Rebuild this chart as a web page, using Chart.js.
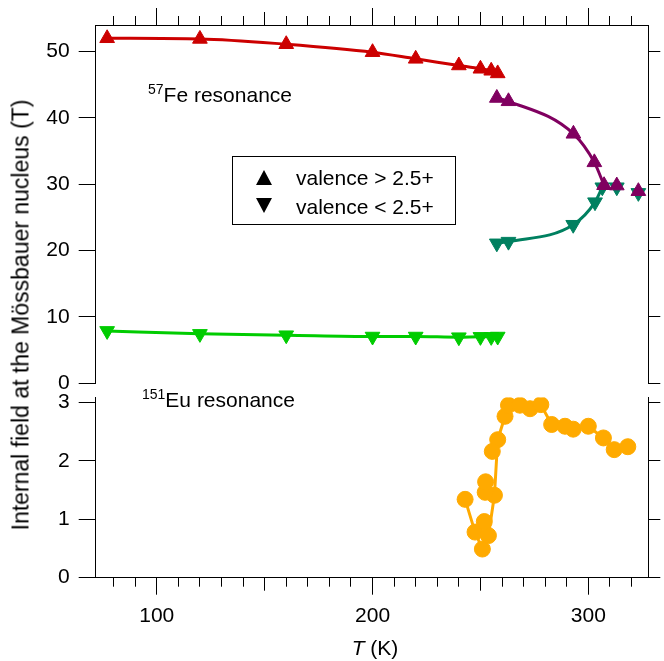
<!DOCTYPE html>
<html>
<head>
<meta charset="utf-8">
<script src="https://cdn.jsdelivr.net/npm/chart.js@4.4.1/dist/chart.umd.min.js"></script>
<style>
	body { margin: 0; background: #fff; }
	#wrap { position: relative; width: 664px; height: 661px; font-family: "Liberation Sans", Arial, sans-serif; color: #000; }
	#wrap canvas { position: absolute; left: 0; }
	.txt { position: absolute; font-size: 21px; line-height: 21px; white-space: nowrap; }
	.sup { font-size: 14px; position: relative; top: -8.5px; }
	#legend { position: absolute; left: 232px; top: 156px; width: 222px; height: 67px; border: 1px solid #000; }
	#legend svg { position: absolute; }
</style>
</head>
<body>
<div id="wrap">
	<canvas id="feChart" width="664" height="405" style="top:0"></canvas>
	<canvas id="euChart" width="664" height="285" style="top:376px"></canvas>

	<div class="txt" style="left:148px;top:84px"><span class="sup">57</span>Fe resonance</div>
	<div class="txt" style="left:142px;top:389px"><span class="sup">151</span>Eu resonance</div>

	<div id="legend">
		<svg width="16" height="15" style="left:23px;top:13px"><polygon points="8,0 16,15 0,15" fill="#000"/></svg>
		<svg width="16" height="15" style="left:23px;top:41px"><polygon points="0,0 16,0 8,15" fill="#000"/></svg>
	</div>
	<div class="txt" style="left:296px;top:167px">valence &gt; 2.5+</div>
	<div class="txt" style="left:296px;top:196px">valence &lt; 2.5+</div>

	<div class="txt" style="left:21px;top:315px;font-size:23px;line-height:23px;transform:translate(-50%,-50%) rotate(-90deg)">Internal field at the Mössbauer nucleus (T)</div>
	<div class="txt" style="left:375px;top:637px;transform:translateX(-50%)"><i>T</i> (K)</div>
</div>

<script>
// 57Fe, low temperature phase (fit lines through the points)
const feT = [77, 120, 160, 200, 220, 240, 250, 255, 258];
const feUp = [52.0, 51.9, 51.1, 49.9, 48.9, 47.9, 47.4, 47.1, 46.7];
const feDown = [7.9, 7.45, 7.25, 7.05, 7.05, 6.95, 7.0, 7.0, 7.05];
// 57Fe, intermediate phase
const feT2 = [257.6, 263, 293.1, 302.8, 307.3];
const feUp2 = [43.0, 42.5, 37.6, 33.3, 29.85];
const feT2d = [257.6, 263, 293, 303.1, 306.5];
const feDown2 = [21.1, 21.35, 23.9, 27.3, 29.55];
// 57Fe, above the transition (no line)
const feT3 = [313.2, 323.2];
const feUp3 = [29.8, 28.95];
const feDown3 = [29.55, 28.7];

// 151Eu
const euT = [242.9, 247.5, 250.9, 253.7, 256.5, 258, 261.4, 263, 268.3, 273, 278, 283, 289.2, 293, 300, 307, 312, 318.3];
const euB = [1.34, 0.78, 0.49, 0.72, 1.41, 2.36, 2.76, 2.95, 2.95, 2.89, 2.96, 2.62, 2.59, 2.54, 2.59, 2.39, 2.19, 2.24];
const euT2 = [251.8, 252.2, 252.4, 255.5];
const euB2 = [0.96, 1.46, 1.64, 2.16];

const xTicksMajor = [100, 200, 300];
const feYTicks = [0, 10, 20, 30, 40, 50];
const euYTicks = [0, 1, 2, 3];

const FONT = "'Liberation Sans', Arial, sans-serif";
const INK = "#000";
const xMin = 71.7, xMax = 327.8;

const pts = (xs, ys) => xs.map((x, i) => ({ x: x, y: ys[i] }));

function xScale(pos, step, len, weight, h, labels) {
	return {
		type: "linear",
		position: pos,
		min: xMin,
		max: xMax,
		weight: weight,
		afterFit: (s) => { s.height = h; },
		afterBuildTicks: labels ? (s) => { s.ticks = xTicksMajor.map((v) => ({ value: v })); } : undefined,
		ticks: {
			stepSize: step,
			includeBounds: false,
			autoSkip: false,
			display: labels,
			color: INK,
			padding: 9,
			font: { family: FONT, size: 21 },
		},
		grid: { drawOnChartArea: false, tickLength: len, tickColor: INK, tickWidth: 1 },
		border: { display: true, color: INK, width: 1 },
	};
}

function yScales(max, step, tickVals, w) {
	return {
		y: {
			type: "linear",
			position: "left",
			min: 0,
			max: max,
			afterFit: (s) => { s.width = w; },
			afterBuildTicks: (s) => { s.ticks = tickVals.map((v) => ({ value: v })); },
			ticks: { stepSize: step, color: INK, padding: 9, font: { family: FONT, size: 21 } },
			grid: { drawOnChartArea: false, tickLength: 17, tickColor: INK },
			border: { display: true, color: INK, width: 1 },
		},
		yR: {
			type: "linear",
			position: "right",
			min: 0,
			max: max,
			afterFit: (s) => { s.width = 664 - 648.3; },
			afterBuildTicks: (s) => { s.ticks = tickVals.map((v) => ({ value: v })); },
			ticks: { display: false },
			grid: { drawOnChartArea: false, tickLength: 12, tickColor: INK },
			border: { display: true, color: INK, width: 1 },
		},
	};
}

function series(data, color, style, withLine, rot) {
	return {
		data: data,
		showLine: withLine,
		borderColor: color,
		backgroundColor: color,
		borderWidth: 3,
		pointStyle: style,
		pointRadius: 8.5,
		pointRotation: rot || 0,
		pointBorderWidth: 1,
		pointBorderColor: color,
		pointBackgroundColor: color,
		cubicInterpolationMode: "monotone",
		xAxisID: "x",
		yAxisID: "y",
	};
}

const common = {
	responsive: false,
	animation: false,
	events: [],
	plugins: { legend: { display: false }, tooltip: { enabled: false } },
};

new Chart(document.getElementById("feChart"), {
	type: "scatter",
	data: {
		datasets: [
			series(pts(feT, feUp), "#cc0000", "triangle", true),
			series(pts(feT2, feUp2), "#800060", "triangle", true),
			series(pts(feT3, feUp3), "#800060", "triangle", false),
			series(pts(feT2d, feDown2), "#008060", "triangle", true, 180),
			series(pts(feT3, feDown3), "#008060", "triangle", false, 180),
			series(pts(feT, feDown), "#00cc00", "triangle", true, 180),
		],
	},
	options: {
		...common,
		layout: { padding: { bottom: 405 - 383.3 } },
		scales: {
			x: xScale("top", 100, 17, 2, 25, false),
			xMid: xScale("top", 50, 13, 1, 0, false),
			xMinor: xScale("top", 10, 9, 0, 0, false),
			...yScales(54, 10, feYTicks, 95.7),
		},
	},
});

const euLine = series(pts(euT, euB), "#ffaa00", "circle", true);
euLine.cubicInterpolationMode = "default";
euLine.tension = 0;
euLine.pointRadius = 8;

const euExtra = series(pts(euT2, euB2), "#ffaa00", "circle", false);
euExtra.pointRadius = 8;

new Chart(document.getElementById("euChart"), {
	type: "scatter",
	data: { datasets: [euExtra, euLine] },
	options: {
		...common,
		layout: { padding: { top: 395.7 - 376 } },
		scales: {
			x: xScale("bottom", 100, 17, 2, 285 - (577.7 - 376), true),
			xMid: xScale("bottom", 50, 13, 1, 0, false),
			xMinor: xScale("bottom", 10, 9, 0, 0, false),
			...yScales(3.08, 1, euYTicks, 95.7),
		},
	},
});
</script>
</body>
</html>
